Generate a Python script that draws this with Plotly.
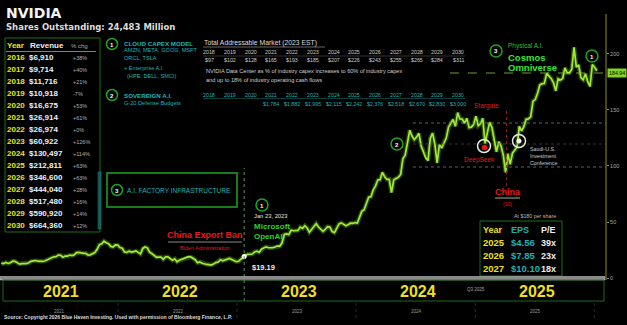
import plotly.graph_objects as go
import pandas as pd

W, H = 627, 325
PW = 606  # plot-area width in px (right margin holds the price axis)

# ---------------- data ----------------
close_2021 = [13.3, 12.9, 13.8, 13.0, 13.6, 15.1, 14.9, 13.7, 12.4, 12.9, 12.8, 12.9,
              13.6, 14.9, 15.3, 15.6, 15.0, 14.7, 14.9, 15.2, 16.2, 17.4, 17.7, 18.9, 19.1,
              20.4, 20.3, 18.6, 19.6, 19.5, 20.5, 20.0, 20.8, 22.6, 22.8, 22.1, 22.0, 22.0,
              20.5, 20.7, 22.1, 22.7, 25.6, 29.7, 30.5, 32.9, 31.5, 30.6, 28.2, 27.7, 29.6, 29.4]
close_2022 = [27.2, 26.5, 23.3, 22.8, 24.0, 23.1, 23.6, 24.1, 22.9, 21.5, 26.4, 27.7,
              26.9, 23.0, 21.7, 20.2, 18.5, 18.7, 18.7, 16.7, 18.9, 18.8, 16.9, 15.8, 17.1,
              14.5, 15.8, 16.5, 17.3, 18.2, 19.1, 18.8, 17.9, 16.3, 13.7, 14.3, 13.2, 12.5, 12.1,
              12.0, 11.5, 12.4, 13.8, 14.1, 16.3, 15.4, 16.3, 17.2, 17.5, 16.6, 15.2, 14.6]
close_2023 = [14.9, 16.9, 17.8, 20.3, 21.1, 21.2, 21.4, 23.3, 24.0, 22.9, 25.7, 26.8, 27.8,
              27.0, 26.8, 27.1, 27.7, 28.7, 28.3, 31.2, 38.9, 39.3, 38.8, 42.6, 42.2, 42.3,
              42.5, 45.5, 44.3, 46.7, 44.7, 40.9, 43.3, 46.0, 48.5, 45.5, 43.9, 41.6, 43.5,
              45.8, 45.5, 41.4, 40.5, 45.0, 48.3, 49.2, 47.8, 46.7, 47.5, 48.9, 48.8, 49.5]
close_2024 = [49.1, 54.7, 59.5, 61.0, 66.1, 72.1, 72.6, 78.8, 82.3, 87.5, 87.8, 94.3, 90.4,
              88.0, 88.1, 76.2, 87.7, 88.8, 89.9, 92.5, 106.5, 109.6, 120.9, 131.9, 126.6, 123.5,
              125.8, 129.2, 117.9, 113.1, 107.3, 104.8, 124.6, 129.4, 119.4, 102.8, 119.1, 116.0, 121.4,
              124.9, 134.8, 138.0, 141.5, 135.4, 147.6, 142.0, 141.9, 138.3, 142.4, 134.3, 134.7, 137.0]
close_2025 = [144.5, 135.9, 137.7, 142.6, 120.1, 129.8, 138.9, 134.4, 124.9, 112.7, 121.7, 117.7, 109.7,
              94.3, 110.9, 101.5, 111.4, 114.5, 116.7, 135.4, 131.3, 135.1, 141.7, 142.0, 143.9, 157.8,
              159.3, 164.9, 172.4, 173.5, 173.7, 182.7, 180.5, 178.0, 174.2, 167.0, 177.8, 176.7, 178.2,
              187.6, 183.2, 183.2, 186.3, 206.0, 188.2, 190.2, 178.9, 177.0, 182.4, 175.0, 171.0, 190.5]
close_2026 = [188.1, 184.9]
first_friday = {2021: "2021-01-08", 2022: "2022-01-07", 2023: "2023-01-06",
                2024: "2024-01-05", 2025: "2025-01-03", 2026: "2026-01-02"}

rev_years = ["2016", "2017", "2018", "2019", "2020", "2021", "2022", "2023",
             "2024", "2025", "2026", "2027", "2028", "2029", "2030"]
rev_values = ["$6,910", "$9,714", "$11,716", "$10,918", "$16,675", "$26,914", "$26,974",
              "$60,922", "$130,497", "$212,811", "$346,600", "$444,040", "$517,480",
              "$590,920", "$664,360"]
rev_chg = ["+38%", "+40%", "+21%", "-7%", "+53%", "+61%", "+0%", "+126%", "+114%",
           "+63%", "+63%", "+28%", "+16%", "+14%", "+12%"]

tam_years = ["2018", "2019", "2020", "2021", "2022", "2023", "2024", "2025", "2026",
             "2027", "2028", "2029", "2030"]
tam_values = ["$97", "$102", "$128", "$165", "$193", "$185", "$207", "$226", "$243",
              "$255", "$265", "$284", "$311"]
sov_values = ["", "", "", "$1,784", "$1,882", "$1,995", "$2,115", "$2,242", "$2,376",
              "$2,518", "$2,670", "$2,830", "$3,000"]

eps_years = ["2025", "2026", "2027"]
eps_values = ["$4.56", "$7.85", "$10.10"]
pe_values = ["39x", "23x", "18x"]

axis_years = ["2021", "2022", "2023", "2024", "2025"]
price_ticks = [0, 50, 100, 150, 200]
last_price_label = "184.94"

# ---------------- build series ----------------
dates, closes = [], []
for yr, vals in [(2021, close_2021), (2022, close_2022), (2023, close_2023),
                 (2024, close_2024), (2025, close_2025), (2026, close_2026)]:
    dates += list(pd.date_range(first_friday[yr], periods=len(vals), freq="W-FRI"))
    closes += vals

FONT = "Liberation Sans, Arial, sans-serif"
NARROW = "Liberation Sans Narrow, Arial Narrow, Liberation Sans, sans-serif"
WIDE = "DejaVu Sans, sans-serif"
YEL = "#eee01e"
TEAL = "#1fb3b3"
GRN = "#1fa51f"
RED = "#e41a1a"
LIME = "#a2ea3a"

fig = go.Figure()
fig.add_trace(go.Scatter(x=dates, y=closes, mode="lines",
                         line=dict(color="rgba(130,230,40,0.30)", width=4.5), hoverinfo="skip"))
fig.add_trace(go.Scatter(x=dates, y=closes, mode="lines",
                         line=dict(color=LIME, width=1.7)))
fig.add_trace(go.Scatter(x=["2023-01-23"], y=[19.19], mode="markers",
                         marker=dict(color="white", size=5)))

ann, shapes = [], []


def fx(px):
    return px / PW


def fy(py):
    return 1 - py / H


def txt(x, y, s, size=7, color="#ffffff", bold=False, anchor="left", family=FONT):
    ann.append(dict(x=fx(x), y=fy(y), xref="paper", yref="paper",
                    text=("<b>%s</b>" % s) if bold else s, showarrow=False,
                    xanchor=anchor, yanchor="middle", borderpad=0,
                    font=dict(size=size, color=color, family=family)))


def rect(x0, y0, x1, y1, color, width=1, fill="rgba(0,0,0,0)", dash="solid"):
    shapes.append(dict(type="rect", xref="paper", yref="paper", x0=fx(x0), x1=fx(x1),
                       y0=fy(y1), y1=fy(y0), line=dict(color=color, width=width, dash=dash),
                       fillcolor=fill, layer="above"))


def seg(x0, y0, x1, y1, color, width=1, dash="solid"):
    shapes.append(dict(type="line", xref="paper", yref="paper", x0=fx(x0), x1=fx(x1),
                       y0=fy(y0), y1=fy(y1), line=dict(color=color, width=width, dash=dash),
                       layer="above"))


def ring(cx, cy, r, color, width=1.5, fill="rgba(0,0,0,0)", label=None):
    shapes.append(dict(type="circle", xref="paper", yref="paper", x0=fx(cx - r), x1=fx(cx + r),
                       y0=fy(cy + r), y1=fy(cy - r), line=dict(color=color, width=width),
                       fillcolor=fill, layer="above"))
    if label:
        txt(cx, cy + 0.5, label, size=6, color="white", bold=True, anchor="center")


# ---------------- title ----------------
txt(5, 13.5, "NVIDIA", size=14, color="#f2f2f2", bold=True, family=WIDE)
txt(5, 26.5, "Shares Outstanding: 24,483 Million", size=8.5, color="#dddddd", bold=True, family=WIDE)

# ---------------- revenue table ----------------
rect(5, 38, 100, 232, "#1c6e1c", 1)
rect(98, 172, 101, 229, "#1a8a8a", 0.5, fill="rgba(30,140,140,0.5)")
txt(6, 46, "Year", size=8, color=YEL, bold=True)
txt(29, 46, "Revenue", size=8, color="#eeeeee", bold=True)
txt(70, 46, "% chg", size=6, color="#aaaaaa")
seg(6, 51.5, 96, 51.5, "#8a8a30", 1)
for i, (yy, rv, ch) in enumerate(zip(rev_years, rev_values, rev_chg)):
    ry = 57.7 + 12 * i
    txt(6, ry, yy, size=8, color=YEL, bold=True, family=NARROW)
    txt(28, ry, rv, size=8, color="#f0f0f0", bold=True)
    txt(72, ry, ch, size=5.5, color="#b0b0b0")

# ---------------- cloud capex / sovereign ----------------
ring(112, 44, 5.5, GRN, label="1")
txt(123, 43, "CLOUD CAPEX MODEL", size=6.2, color=TEAL, bold=True)
txt(123, 50.5, "AMZN, META, GOOG, MSFT", size=5.6, color=TEAL)
txt(123, 58.5, "ORCL, TSLA", size=5.6, color=TEAL)
txt(123, 67.5, "+ Enterprise A.I.", size=5.6, color=TEAL)
txt(126, 76, "(HPE, DELL, SMCI)", size=5.6, color=TEAL)
ring(112, 95, 5.5, GRN, label="2")
txt(123, 95, "SOVEREIGN A.I.", size=6.2, color=TEAL, bold=True)
txt(123, 103, "G-20 Defense Budgets", size=5.6, color=TEAL)

# ---------------- TAM table ----------------
txt(203, 43, "Total Addressable Market (2023 EST)", size=6.8, color="#dddddd")
seg(203, 47, 325, 47, "#aaaaaa", 0.6)
col0, dcol = 209, 20.75
for i, (yy, tv, sv) in enumerate(zip(tam_years, tam_values, sov_values)):
    cx = col0 + dcol * i
    txt(cx, 52.5, yy, size=5.3, color="#cccccc", anchor="center")
    txt(cx, 60.5, tv, size=5.3, color="#cccccc", anchor="center")
    txt(cx, 94.5, yy, size=5.3, color=TEAL, anchor="center")
    if sv:
        txt(cx, 103.5, sv, size=5.3, color=TEAL, anchor="center")
seg(203, 56, 465, 56, "#666666", 0.5)
seg(203, 98.5, 465, 98.5, "#1a7a7a", 0.5)
txt(205, 71, "NVIDIA Data Center as % of industry capex increases to 60% of industry capex",
    size=5.6, color="#cfcfcf")
txt(205, 80, "and up to 18% of industry operating cash flows", size=5.6, color="#cfcfcf")

# ---------------- AI factory box ----------------
rect(107, 173, 237, 207, GRN, 1.5)
ring(117, 190, 5.5, GRN, label="3")
txt(126, 190, "A.I. FACTORY INFRASTRUCTURE", size=6.5, color=TEAL)

# ---------------- China export ban ----------------
txt(205, 235, "China Export Ban", size=9, color=RED, bold=True, anchor="center")
seg(168, 242, 242, 242, "#8a8a8a", 1)
txt(205, 247.5, "Biden Administration", size=5.5, color=RED, anchor="center")

# ---------------- Microsoft / OpenAI ----------------
shapes.append(dict(type="line", xref="x", yref="paper", x0="2023-01-23", x1="2023-01-23",
                   y0=fy(301), y1=fy(168), line=dict(color="#5f8f5f", width=1, dash="dot")))
ring(262, 205, 6, GRN, label="1")
txt(253, 215.5, "Jan 23, 2023", size=5.8, color="#e0e0e0")
txt(253, 226, "Microsoft", size=8, color="#2fcf2f", bold=True)
txt(253, 236.5, "OpenAI", size=8, color="#2fcf2f", bold=True)
txt(251, 267, "$19.19", size=7.5, color="#eeeeee", bold=True)

# ---------------- 2024/2025 events ----------------
ring(397, 144, 6, GRN, label="2")
txt(486, 106, "Stargate", size=6.5, color=RED, anchor="center")
shapes.append(dict(type="line", xref="x", yref="paper", x0="2025-04-07", x1="2025-04-07",
                   y0=fy(186), y1=fy(109), line=dict(color="#b01818", width=1, dash="dot")))
ring(484, 146, 6.5, "#e8e8e8", 1.5)
ring(484.5, 147.5, 2.5, RED, 0.5, fill=RED)
txt(479, 160, "DeepSeek", size=6.5, color=RED, anchor="center")
ring(519, 141, 6.5, "#e8e8e8", 1.5)
ring(519, 141, 2.3, "#ffffff", 0.5, fill="#ffffff")
txt(529, 148.5, "Saudi-U.S.", size=5.3, color="#cccccc")
txt(529, 155.5, "Investment", size=5.3, color="#cccccc")
txt(529, 162.5, "Conference", size=5.3, color="#cccccc")
txt(507.5, 192, "China", size=9, color=RED, bold=True, anchor="center")
seg(495, 198, 520, 198, "#8a8a8a", 1.2)
txt(507.5, 203.5, "(10)", size=5, color=RED, anchor="center")

ring(496, 51, 6, GRN, label="3")
txt(507, 46, "Physical A.I.", size=6.5, color="#2fbf2f")
txt(507, 57.5, "Cosmos", size=9.5, color="#3ee23e", bold=True)
txt(507, 67.5, "Omniverse", size=9.5, color="#3ee23e", bold=True)
ring(592, 56, 6, GRN, label="1")

# reference dashed levels
seg(450, 73, 606, 73, "#8fc23a", 0.8, "dash")
seg(413, 123, 606, 123, "#8a8a8a", 0.7, "dot")
seg(413, 144, 606, 144, "#4a4a4a", 0.7, "dot")
seg(413, 167, 606, 167, "#8a8a8a", 0.7, "dot")

# ---------------- EPS table ----------------
txt(535, 216, "At $180 per share", size=5.3, color="#bbbbbb", anchor="center")
rect(480, 221, 562, 276, "#1c6e1c", 1)
txt(482, 230, "Year", size=9, color=YEL, bold=True, family=NARROW)
txt(510, 230, "EPS", size=9, color=TEAL, bold=True, family=NARROW)
txt(540, 230, "P/E", size=9, color="#eeeeee", bold=True, family=NARROW)
for i, (yy, ev, pv) in enumerate(zip(eps_years, eps_values, pe_values)):
    ry = 242.5 + 13 * i
    txt(482, ry, yy, size=9.5, color=YEL, bold=True, family=NARROW)
    txt(510, ry, ev, size=9.5, color=TEAL, bold=True, family=NARROW)
    txt(540, ry, pv, size=9, color="#eeeeee", bold=True, family=NARROW)

# ---------------- bottom band ----------------
rect(0, 276.5, 605, 280, "#cfcfcf", 0.5, fill="#8a8a8a")
rect(3, 280, 604, 301, "#1e6a1e", 1)
for yy in axis_years:
    ann.append(dict(x=yy + "-07-10", y=fy(291), xref="x", yref="paper", text="<b>%s</b>" % yy,
                    showarrow=False, xanchor="center", yanchor="middle", borderpad=0,
                    font=dict(size=16, color=YEL, family=NARROW)))
    ann.append(dict(x=yy + "-07-05", y=fy(311), xref="x", yref="paper", text=yy,
                    showarrow=False, xanchor="center", yanchor="middle", borderpad=0,
                    font=dict(size=4.5, color="#9a9a9a", family=FONT)))
for yy in ["2022", "2023", "2024", "2025", "2026"]:
    shapes.append(dict(type="line", xref="x", yref="paper", x0=yy + "-01-01", x1=yy + "-01-01",
                       y0=fy(318), y1=fy(302), line=dict(color="#444444", width=0.6, dash="dot")))
txt(476, 289.5, "Q3 2025", size=4.5, color="#aaaaaa", anchor="center")
txt(3, 316.5, "Source: Copyright 2026 Blue Haven Investing. Used with permission of Bloomberg Finance, L.P.",
    size=5, color="#dddddd", bold=True)

# ---------------- right axis ----------------
seg(606, 14, 606, 280, "#77771e", 1.2)
ann.append(dict(x=fx(607), y=fy(73), xref="paper", yref="paper", text=last_price_label,
                showarrow=False, xanchor="left", yanchor="middle", borderpad=1,
                bgcolor="#7fd424", font=dict(size=5.3, color="#000000", family=FONT)))

fig.update_layout(
    width=W, height=H, margin=dict(l=0, r=W - PW, t=0, b=0),
    paper_bgcolor="#000000", plot_bgcolor="#000000", showlegend=False,
    xaxis=dict(type="date", range=["2021-01-04", "2026-02-06"], visible=False),
    yaxis=dict(range=[-41.96, 248.2], side="right", tickvals=price_ticks, ticks="outside",
               ticklen=2, tickcolor="#888888", tickfont=dict(size=5.5, color="#aaaaaa", family=FONT),
               showgrid=False, zeroline=False, showline=False),
    annotations=ann, shapes=shapes,
)

fig.write_html("out.html")
